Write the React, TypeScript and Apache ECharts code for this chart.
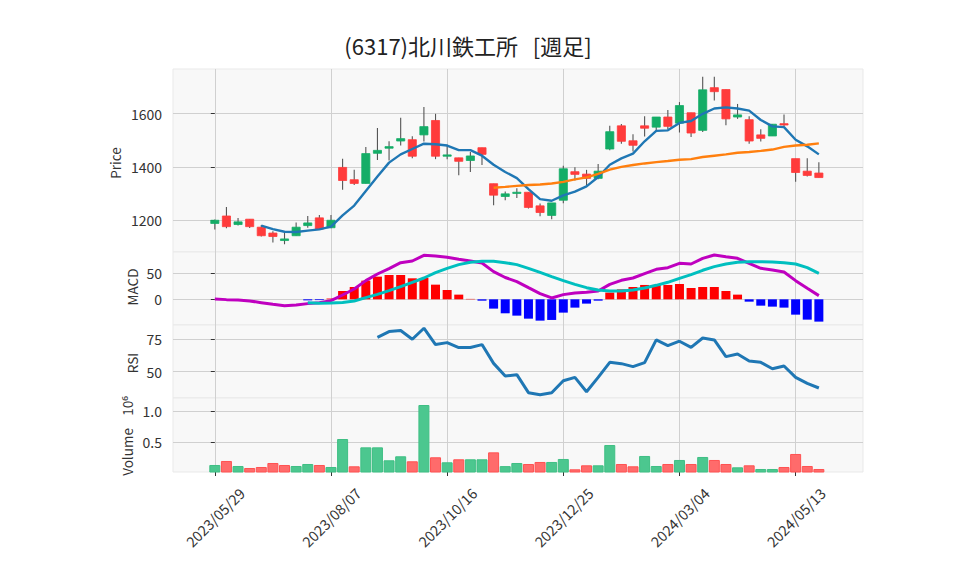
import React, { useEffect, useRef } from "react";
import * as echarts from "echarts";

// Weekly bars, index 0 = 2023/05/29
const tickIdx = [0, 10, 20, 30, 40, 50];
const tickLabels = ["2023/05/29", "2023/08/07", "2023/10/16", "2023/12/25", "2024/03/04", "2024/05/13"];

const opens = [1188, 1216, 1184, 1204, 1174, 1152, 1124, 1142, 1180, 1209, 1172, 1398, 1352, 1338, 1451, 1470, 1497, 1502, 1520, 1574, 1440, 1434, 1424, 1472, 1337, 1289, 1303, 1305, 1254, 1218, 1275, 1382, 1373, 1357, 1467, 1554, 1498, 1554, 1549, 1587, 1564, 1603, 1537, 1697, 1690, 1587, 1577, 1520, 1516, 1562, 1431, 1384, 1377];
const closes = [1200, 1176, 1194, 1176, 1142, 1139, 1130, 1174, 1190, 1167, 1200, 1349, 1338, 1450, 1462, 1476, 1506, 1440, 1551, 1440, 1445, 1421, 1441, 1447, 1294, 1299, 1305, 1248, 1229, 1265, 1393, 1372, 1357, 1384, 1532, 1496, 1481, 1545, 1587, 1552, 1630, 1527, 1689, 1682, 1580, 1595, 1497, 1507, 1560, 1557, 1379, 1368, 1360];
const highs = [1203, 1250, 1208, 1204, 1182, 1159, 1155, 1192, 1216, 1220, 1220, 1431, 1389, 1475, 1546, 1496, 1584, 1515, 1625, 1599, 1483, 1434, 1456, 1472, 1337, 1308, 1320, 1305, 1263, 1265, 1404, 1399, 1389, 1411, 1554, 1561, 1522, 1590, 1587, 1613, 1643, 1603, 1738, 1738, 1690, 1636, 1590, 1541, 1560, 1596, 1431, 1432, 1417];
const lows = [1165, 1170, 1180, 1171, 1139, 1117, 1110, 1142, 1172, 1167, 1170, 1314, 1332, 1338, 1426, 1424, 1480, 1432, 1495, 1429, 1429, 1369, 1381, 1407, 1256, 1275, 1283, 1244, 1215, 1204, 1264, 1349, 1332, 1354, 1462, 1487, 1458, 1514, 1534, 1542, 1529, 1512, 1531, 1649, 1556, 1580, 1487, 1495, 1516, 1552, 1344, 1364, 1360];
// volume in millions
const volumes = [0.138, 0.202, 0.122, 0.09, 0.106, 0.17, 0.138, 0.122, 0.154, 0.138, 0.106, 0.553, 0.117, 0.42, 0.42, 0.213, 0.277, 0.197, 1.096, 0.261, 0.181, 0.229, 0.229, 0.229, 0.34, 0.12, 0.17, 0.154, 0.186, 0.186, 0.234, 0.069, 0.133, 0.133, 0.457, 0.154, 0.117, 0.282, 0.122, 0.154, 0.218, 0.154, 0.266, 0.218, 0.154, 0.101, 0.133, 0.074, 0.074, 0.106, 0.314, 0.122, 0.074];

const ma5 = [null, null, null, null, 1180, 1167, 1157, 1156, 1161, 1166, 1176, 1218, 1255, 1310, 1364, 1416, 1447, 1467, 1487, 1485, 1480, 1463, 1463, 1442, 1408, 1381, 1358, 1317, 1279, 1273, 1293, 1307, 1327, 1362, 1408, 1432, 1450, 1496, 1535, 1537, 1565, 1572, 1599, 1619, 1623, 1619, 1611, 1576, 1552, 1549, 1502, 1477, 1447];
const ma25 = [null, null, null, null, null, null, null, null, null, null, null, null, null, null, null, null, null, null, null, null, null, null, null, null, 1322, 1325, 1329, 1332, 1334, 1338, 1344, 1353, 1361, 1374, 1390, 1400, 1407, 1413, 1418, 1422, 1427, 1429, 1437, 1442, 1447, 1453, 1456, 1460, 1465, 1475, 1480, 1483, 1488];

const macdLine = [0.6, -0.6, -1.3, -3.2, -6.4, -9.6, -12.2, -10.9, -8.3, -6.4, -2.6, 8.3, 19.9, 35.9, 48.7, 59, 70.5, 73.7, 84.6, 83.3, 80.8, 76.9, 73.7, 69.9, 53.2, 42, 34, 22.4, 10.9, 2.6, 9.0, 12.2, 13.5, 16.0, 28.8, 36.5, 41, 49.4, 57.7, 60.9, 69.2, 67.9, 78.8, 85.3, 82, 78.8, 69.2, 59.6, 56.4, 52.6, 35.9, 21.2, 7.1];
const signalLine = [null, null, null, null, null, null, null, null, -6.4, -7.7, -7.1, -6.0, -3.2, 3.2, 9.6, 16.7, 24.4, 32.7, 41.0, 51.3, 59.6, 66.7, 71.2, 73.1, 73.1, 70.5, 66.7, 59.6, 51.9, 43.6, 35.9, 28.8, 22.4, 17.9, 16.0, 16.0, 17.9, 21.8, 26.9, 32.7, 40.4, 47.4, 55.8, 62.8, 67.9, 71.2, 72.4, 72.4, 71.8, 70.5, 67.9, 60.9, 50.0];
const histogram = [null, null, null, null, null, null, null, null, -2, -1.5, 1.5, 16, 23.7, 35.9, 43.6, 46.8, 46.8, 40.4, 41.0, 28.2, 17.9, 9.0, 0.8, -2.6, -17.9, -26.9, -31.4, -37.2, -41.0, -39.7, -25.6, -16.0, -8.3, -2.6, 13, 19.2, 23.7, 27.6, 27.6, 27.6, 29.5, 21.8, 23.7, 23.7, 16.0, 9.0, -4.5, -12.2, -14.1, -16.0, -29.5, -39.1, -42.9];
const rsi = [null, null, null, null, null, null, null, null, null, null, null, null, null, null, 76.5, 80.9, 81.7, 75.0, 83.5, 70.9, 72.4, 68.6, 68.6, 70.9, 56.4, 46.6, 47.7, 33.8, 32.2, 33.8, 43.0, 45.6, 34.5, 45.6, 57.2, 56.2, 53.9, 57.0, 74.5, 70.1, 73.5, 68.8, 76.0, 74.5, 61.6, 63.7, 58.2, 57.2, 52.3, 54.4, 45.6, 41.0, 37.4];

const priceTicks = [1200, 1400, 1600];
const macdTicks = [0, 50];
const rsiTicks = [50, 75];
const volTicks = [0.5, 1.0];

const FONT = "'Noto Sans CJK JP', 'Noto Sans', sans-serif";
const UP = "#14ad67";
const DOWN = "#ff3b3b";
const VUP = "#4cc78f";
const VDOWN = "#ff6b6b";
const GRIDLINE = "#d0d0d0";
const TXT = "#333";

const toPts = (arr: (number | null)[]) =>
  arr.map((v, i) => [i, v]).filter((p) => p[1] !== null);

export default function App() {
  const ref = useRef<HTMLDivElement>(null);
  useEffect(() => {
    document.body.style.margin = "0";
    if (!ref.current) return;
    const chart = echarts.init(ref.current, null, { renderer: "svg" });

    const gridBox = [
      { top: 69, height: 183 },
      { top: 252, height: 73 },
      { top: 325, height: 73 },
      { top: 398, height: 74 },
    ];
    const grid = gridBox.map((g) => ({
      left: 173,
      right: 95,
      top: g.top,
      height: g.height,
      show: true,
      backgroundColor: "#f8f8f8",
      borderColor: "#e9e9e9",
      borderWidth: 1,
    }));

    const xAxis = gridBox.map((_, k) => ({
      type: "value",
      gridIndex: k,
      min: -3.6,
      max: 55.8,
      axisLine: { show: false },
      axisTick: { show: k === 3, customValues: tickIdx, length: 4, lineStyle: { color: TXT } },
      splitLine: { show: true, customValues: tickIdx, lineStyle: { color: GRIDLINE, width: 1 } },
      axisLabel: {
        show: k === 3,
        customValues: tickIdx,
        formatter: (v: number) => tickLabels[tickIdx.indexOf(Math.round(v))] ?? "",
        rotate: 45,
        align: "center",
        verticalAlign: "middle",
        margin: 45,
        fontSize: 14.5,
        color: TXT,
        fontFamily: FONT,
      },
    }));

    const yDefs = [
      { min: 1081, max: 1767, ticks: priceTicks, fmt: (v: number) => String(v) },
      { min: -49.4, max: 91, ticks: macdTicks, fmt: (v: number) => String(v) },
      { min: 29.7, max: 86, ticks: rsiTicks, fmt: (v: number) => String(v) },
      { min: 0.026, max: 1.208, ticks: volTicks, fmt: (v: number) => v.toFixed(1) },
    ];
    const yAxis = yDefs.map((d, k) => ({
      type: "value",
      gridIndex: k,
      min: d.min,
      max: d.max,
      position: "left",
      axisLine: { show: false },
      axisTick: { show: true, customValues: d.ticks, length: 4, lineStyle: { color: TXT } },
      splitLine: { show: true, customValues: d.ticks, lineStyle: { color: GRIDLINE, width: 1 } },
      axisLabel: {
        customValues: d.ticks,
        formatter: d.fmt,
        margin: 11,
        fontSize: 14,
        color: TXT,
        fontFamily: FONT,
      },
    }));

    const candleData = opens.map((o, i) => [i, o, closes[i], lows[i], highs[i]]);

    const volData = volumes.map((v, i) => {
      const up = i === 0 ? closes[0] >= opens[0] : closes[i] >= closes[i - 1];
      return {
        value: [i, v],
        itemStyle: { color: up ? VUP : VDOWN, borderColor: up ? "#3fbf84" : "#ff5252", borderWidth: 1 },
      };
    });

    const histData = histogram
      .map((v, i) => [i, v])
      .filter((p) => p[1] !== null)
      .map((p) => ({
        value: p,
        itemStyle: { color: (p[1] as number) >= 0 ? "#ff0000" : "#0000ff" },
      }));

    const lineS = (name: string, data: any[], xi: number, color: string, width: number) => ({
      name,
      type: "line",
      xAxisIndex: xi,
      yAxisIndex: xi,
      data,
      showSymbol: false,
      symbol: "none",
      lineStyle: { color, width },
      z: 5,
      silent: true,
    });

    const option: any = {
      animation: false,
      backgroundColor: "#ffffff",
      textStyle: { fontFamily: FONT },
      grid,
      xAxis,
      yAxis,
      graphic: [
        {
          type: "text",
          x: 468,
          y: 45,
          style: {
            text: "(6317)北川鉄工所   [週足]",
            fontSize: 22,
            fontFamily: FONT,
            fill: "#222",
            align: "center",
            verticalAlign: "middle",
            textAlign: "center",
            textVerticalAlign: "middle",
          },
        },
        ...[
          { t: "Price", x: 115, y: 163 },
          { t: "MACD", x: 132, y: 287 },
          { t: "RSI", x: 132, y: 363 },
          { t: "Volume", x: 127, y: 452 },
          { t: "10⁶", x: 127, y: 406 },
        ].map((a) => ({
          type: "text",
          x: a.x,
          y: a.y,
          rotation: Math.PI / 2,
          style: {
            text: a.t,
            fontSize: 13.5,
            fontFamily: FONT,
            fill: TXT,
            align: "center",
            verticalAlign: "middle",
            textAlign: "center",
            textVerticalAlign: "middle",
          },
        })),
      ],
      series: [
        {
          type: "custom",
          name: "candles",
          xAxisIndex: 0,
          yAxisIndex: 0,
          clip: true,
          silent: true,
          encode: { x: 0, y: [1, 2, 3, 4] },
          data: candleData,
          renderItem: (params: any, api: any) => {
            const x = api.value(0);
            const o = api.value(1);
            const c = api.value(2);
            const l = api.value(3);
            const h = api.value(4);
            const pO = api.coord([x, o]);
            const pC = api.coord([x, c]);
            const pL = api.coord([x, l]);
            const pH = api.coord([x, h]);
            const w = api.size([0.7, 0])[0];
            const up = c >= o;
            const col = up ? UP : DOWN;
            const top = Math.min(pO[1], pC[1]);
            const bh = Math.max(Math.abs(pO[1] - pC[1]), 1.2);
            return {
              type: "group",
              children: [
                {
                  type: "line",
                  shape: { x1: pH[0], y1: pH[1], x2: pL[0], y2: pL[1] },
                  style: { stroke: "#555", lineWidth: 1.1 },
                },
                {
                  type: "rect",
                  shape: { x: pO[0] - w / 2, y: top, width: w, height: bh },
                  style: { fill: col, stroke: col, lineWidth: 0.8 },
                },
              ],
            };
          },
        },
        lineS("MA5", toPts(ma5), 0, "#1f77b4", 2.4),
        lineS("MA25", toPts(ma25), 0, "#ff7f0e", 2.4),
        {
          type: "bar",
          name: "hist",
          xAxisIndex: 1,
          yAxisIndex: 1,
          barWidth: 9,
          data: histData,
          silent: true,
        },
        lineS("MACD", toPts(macdLine), 1, "#bf00bf", 3),
        lineS("Signal", toPts(signalLine), 1, "#00bfbf", 3),
        lineS("RSI", toPts(rsi), 2, "#1f77b4", 3),
        {
          type: "bar",
          name: "volume",
          xAxisIndex: 3,
          yAxisIndex: 3,
          barWidth: 11,
          data: volData,
          silent: true,
        },
      ],
    };
    chart.setOption(option);
    return () => chart.dispose();
  }, []);
  return <div ref={ref} style={{ width: 958, height: 575 }} />;
}
